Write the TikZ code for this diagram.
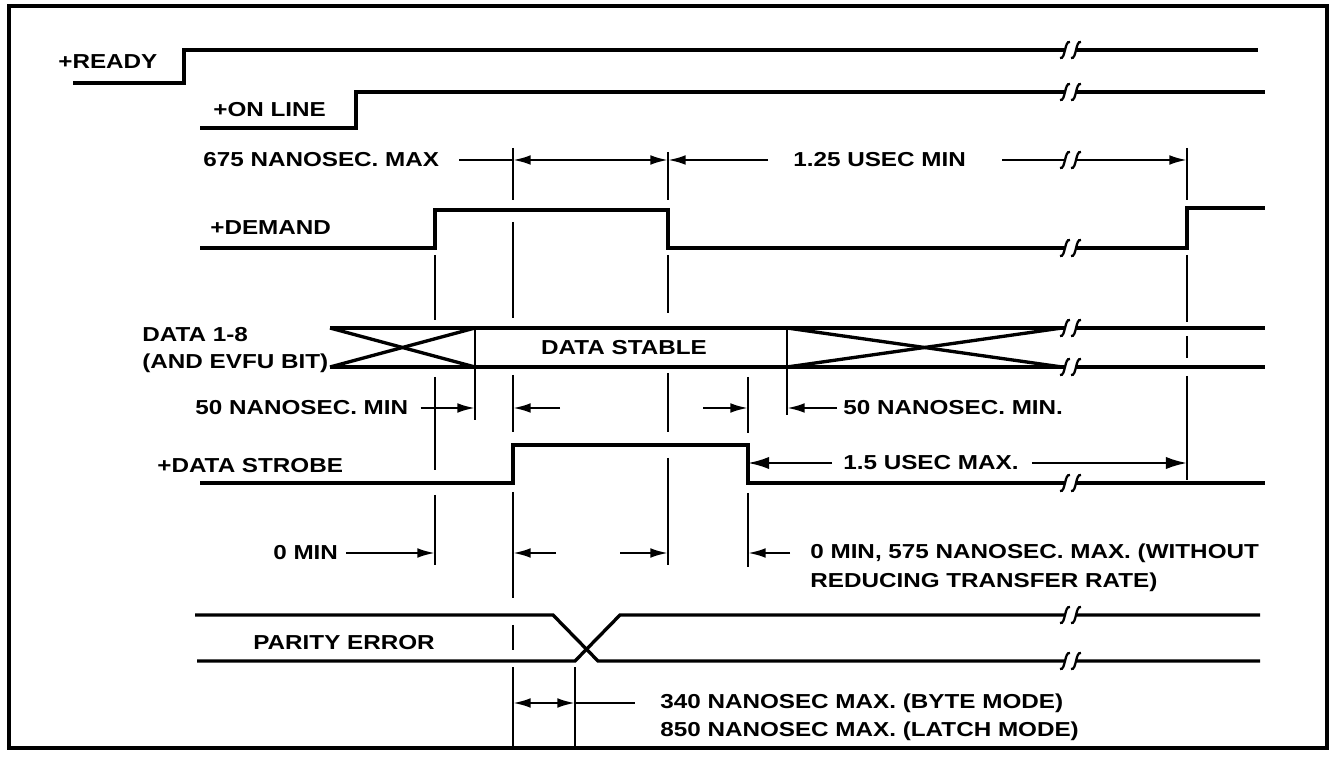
\documentclass[tikz,border=0pt]{standalone}
\usepackage{fontspec}
\setmainfont[FakeStretch=1.2]{Liberation Sans}
\usetikzlibrary{arrows.meta}

\newcommand{\brk}[2]{%
  \begin{scope}[shift={(#1,#2)}]
    \fill[white] (-5,-3) rectangle (6,3);
    \draw[line width=1.3pt] (-10,8) .. controls (-7,9) and (-6,4) .. (-5,0) .. controls (-4,-4) and (-3,-9) .. (0,-8);
    \draw[line width=1.3pt] (1,8) .. controls (4,9) and (5,4) .. (6,0) .. controls (7,-4) and (8,-9) .. (11,-8);
  \end{scope}}

\begin{document}
\begin{tikzpicture}[x=0.02cm, y=-0.02cm,
    sig/.style={line width=1.9pt},
    vline/.style={line width=1pt},
    leader/.style={line width=1.3pt},
    dimarrow/.style={line width=1.3pt, -{Latex[length=10pt,width=5.5pt]}},
    dimboth/.style={line width=1.3pt, {Latex[length=10pt,width=5.5pt]}-{Latex[length=10pt,width=5.5pt]}},
    bigarrow/.style={line width=1.3pt, -{Latex[length=12pt,width=7pt]}},
    lbl/.style={anchor=west, inner sep=0pt, font=\fontsize{11.5}{13}\selectfont\bfseries}]
  \useasboundingbox (0,0) rectangle (1335,759);
  \draw[line width=1.8pt] (9,6) rectangle (1327,748);

  \coordinate (dmd1) at (435,0);
  \coordinate (dvalid) at (475,0);
  \coordinate (stb1) at (513,0);
  \coordinate (perr) at (575,0);
  \coordinate (dmd2) at (668,0);
  \coordinate (stb2) at (748,0);
  \coordinate (dchg) at (787,0);
  \coordinate (dmd3) at (1187,0);

  \node[lbl] (ready) at (58,62) {+READY};
  \node[lbl] (online) at (213,110) {+ON LINE};
  \node[lbl] (n675) at (203,160) {675 NANOSEC. MAX};
  \node[lbl] (n125) at (793,160) {1.25 USEC MIN};
  \node[lbl] (demand) at (210,228) {+DEMAND};
  \node[lbl] (data1) at (142,335) {DATA 1-8};
  \node[lbl] (data2) at (142,363) {(AND EVFU BIT)};
  \node[inner sep=0pt, font=\fontsize{11.5}{13}\selectfont\bfseries] (stable) at (624,348) {DATA STABLE};
  \node[lbl] (n50a) at (195,408) {50 NANOSEC. MIN};
  \node[lbl] (n50b) at (843,408) {50 NANOSEC. MIN.};
  \node[lbl] (strobe) at (157,466) {+DATA STROBE};
  \node[lbl] (n15) at (843,463) {1.5 USEC MAX.};
  \node[lbl] (n0min) at (273,553) {0 MIN};
  \node[lbl] (n575a) at (810,553) {0 MIN, 575 NANOSEC. MAX. (WITHOUT};
  \node[lbl] (n575b) at (810,582) {REDUCING TRANSFER RATE)};
  \node[lbl] (parity) at (253,643) {PARITY ERROR};
  \node[lbl] (n340a) at (660,703) {340 NANOSEC MAX. (BYTE MODE)};
  \node[lbl] (n340b) at (660,731) {850 NANOSEC MAX. (LATCH MODE)};

  \foreach \x/\a/\b in {435/255/320, 435/377/470, 435/495/565,
      513/148/200, 513/222/318, 513/375/432, 513/492/598, 513/625/650, 513/667/748,
      668/152/200, 668/255/313, 668/373/432, 668/458/565,
      748/377/433, 748/493/567,
      475/328/420, 787/328/415, 575/667/748,
      1187/148/200, 1187/255/322, 1187/336/358, 1187/376/480}
    \draw[vline] (\x,\a) -- (\x,\b);

  \draw[sig] (73,83) -- (184,83) -- (184,50) -- (1258,50);
  \brk{1070}{50}
  \draw[sig] (200,128) -- (356,128) -- (356,92) -- (1265,92);
  \brk{1070}{92}
  \draw[sig] (200,248) -- (435,248) -- (435,210) -- (668,210) -- (668,248) -- (1187,248) -- (1187,208) -- (1265,208);
  \brk{1070}{248}

  \draw[sig] (330,328) -- (1265,328);
  \draw[sig] (330,367) -- (1265,367);
  \draw[sig] (330,328) -- (475,367);
  \draw[sig] (330,367) -- (475,328);
  \draw[sig] (787,328) -- (1062,367);
  \draw[sig] (787,367) -- (1062,328);
  \brk{1070}{328}
  \brk{1070}{367}

  \draw[sig] (200,483) -- (513,483) -- (513,445) -- (748,445) -- (748,483) -- (1265,483);
  \brk{1070}{483}

  \draw[sig] (195,615) -- (553,615) -- (598,661) -- (1260,661);
  \draw[sig] (197,661) -- (575,661) -- (620,615) -- (1260,615);
  \brk{1070}{615}
  \brk{1070}{661}

  \draw[leader] (n675.east) ++(20,0) -- (stb1 |- n675);
  \draw[dimboth] (stb1 |- n675) -- (dmd2 |- n675);
  \draw[dimarrow] (n125.west) ++(-25,0) -- (dmd2 |- n125);
  \draw[dimarrow] (n125.east) ++(36,0) -- (dmd3 |- n125);
  \brk{1070}{160}

  \draw[dimarrow] (n50a.east) ++(12,0) -- (dvalid |- n50a);
  \draw[dimarrow] (stb1 |- n50a) ++(47,0) -- (stb1 |- n50a);
  \draw[dimarrow] (stb2 |- n50a) ++(-45,0) -- (stb2 |- n50a);
  \draw[dimarrow] (n50b.west) ++(-6,0) -- (dchg |- n50b);

  \draw[bigarrow] (n15.west) ++(-11,0) -- (stb2 |- n15);
  \draw[bigarrow] (n15.east) ++(13,0) -- (dmd3 |- n15);

  \draw[dimarrow] (n0min.east) ++(8,0) -- (dmd1 |- n0min);
  \draw[dimarrow] (stb1 |- n0min) ++(43,0) -- (stb1 |- n0min);
  \draw[dimarrow] (dmd2 |- n0min) ++(-48,0) -- (dmd2 |- n0min);
  \draw[dimarrow] (n575a.west) ++(-20,0) -- (stb2 |- n575a);

  \draw[dimboth] (stb1 |- n340a) -- (perr |- n340a);
  \draw[leader] (perr |- n340a) -- ++(60,0);
\end{tikzpicture}
\end{document}
